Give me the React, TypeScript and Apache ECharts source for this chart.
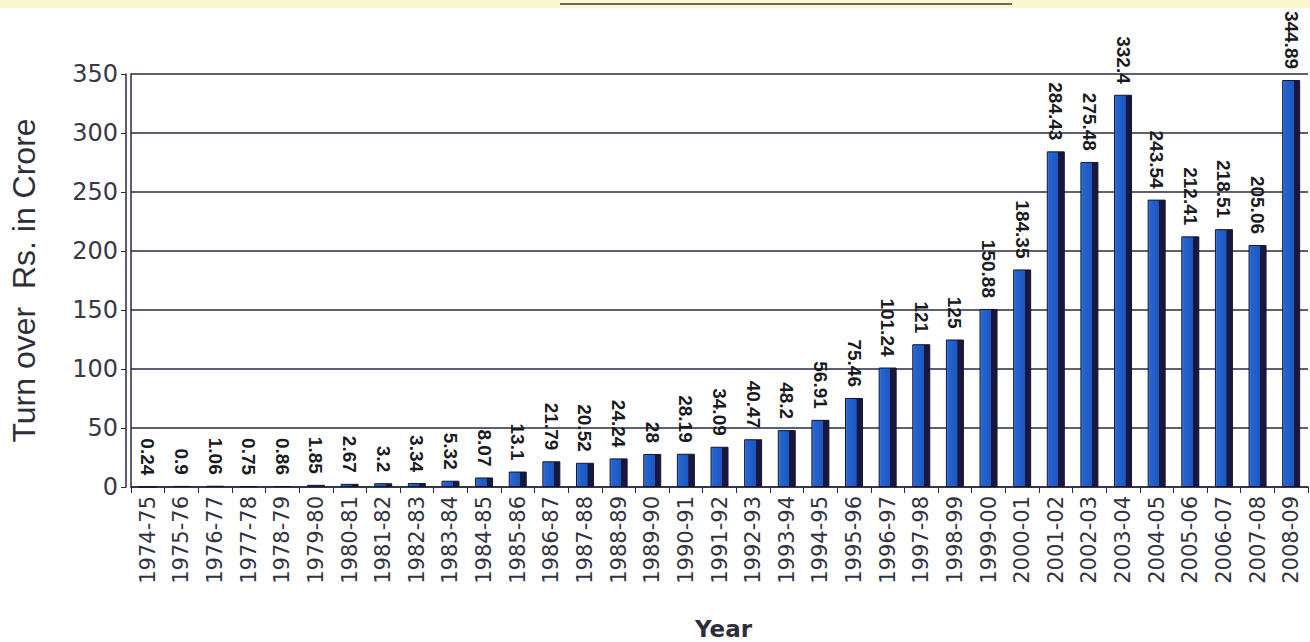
import React, { useEffect, useRef } from "react";
import * as echarts from "echarts";

const years = [
  "1974-75", "1975-76", "1976-77", "1977-78", "1978-79", "1979-80", "1980-81",
  "1981-82", "1982-83", "1983-84", "1984-85", "1985-86", "1986-87", "1987-88",
  "1988-89", "1989-90", "1990-91", "1991-92", "1992-93", "1993-94", "1994-95",
  "1995-96", "1996-97", "1997-98", "1998-99", "1999-00", "2000-01", "2001-02",
  "2002-03", "2003-04", "2004-05", "2005-06", "2006-07", "2007-08", "2008-09",
];

const turnover = [
  0.24, 0.9, 1.06, 0.75, 0.86, 1.85, 2.67,
  3.2, 3.34, 5.32, 8.07, 13.1, 21.79, 20.52,
  24.24, 28, 28.19, 34.09, 40.47, 48.2, 56.91,
  75.46, 101.24, 121, 125, 150.88, 184.35, 284.43,
  275.48, 332.4, 243.54, 212.41, 218.51, 205.06, 344.89,
];

const yTicks = { min: 0, max: 350, interval: 50 };

const yTitle = "Turn over  Rs. in Crore";
const xTitle = "Year";

export default function App() {
  const ref = useRef<HTMLDivElement>(null);

  useEffect(() => {
    if (!ref.current) return;
    const chart = echarts.init(ref.current, null, { renderer: "svg" });
    const lineColor = "#2a2a44";
    const barFill = new echarts.graphic.LinearGradient(0, 0, 1, 0, [
      { offset: 0, color: "#4a86e6" },
      { offset: 0.12, color: "#2564cf" },
      { offset: 0.64, color: "#1d57c0" },
      { offset: 0.66, color: "#18183e" },
      { offset: 1, color: "#18183e" },
    ]);
    chart.setOption({
      animation: false,
      backgroundColor: "#ffffff",
      graphic: [
        {
          type: "rect",
          shape: { x: 0, y: 0, width: 1310, height: 8 },
          style: { fill: "#fbf7cf" },
          silent: true,
        },
        {
          type: "line",
          shape: { x1: 560, y1: 4, x2: 1012, y2: 4 },
          style: { stroke: "#3a3a40", lineWidth: 1.5 },
          silent: true,
        },
        {
          type: "text",
          left: 695,
          top: 617,
          style: {
            text: xTitle,
            font: "bold 23px 'DejaVu Sans'",
            fill: "#2e2e3a",
          },
        },
      ],
      grid: { left: 131, right: 2, top: 74, bottom: 155, containLabel: false },
      xAxis: {
        type: "category",
        data: years,
        axisLine: { show: true, lineStyle: { color: lineColor, width: 1.5 } },
        axisTick: { show: true, length: 6, alignWithLabel: false, lineStyle: { color: lineColor } },
        axisLabel: {
          rotate: 90,
          interval: 0,
          margin: 9,
          fontFamily: "DejaVu Sans",
          fontSize: 21,
          color: "#333340",
        },
      },
      yAxis: [
        {
          type: "value",
          min: yTicks.min,
          max: yTicks.max,
          interval: yTicks.interval,
          offset: 5,
          name: yTitle,
          nameLocation: "middle",
          nameGap: 86,
          nameRotate: 90,
          nameTextStyle: {
            fontFamily: "Liberation Sans",
            fontSize: 32,
            color: "#2e2e3a",
          },
          axisLine: { show: true, lineStyle: { color: lineColor, width: 1.5 } },
          axisTick: { show: true, length: 5, lineStyle: { color: lineColor } },
          axisLabel: {
            margin: 8,
            fontFamily: "DejaVu Sans",
            fontSize: 24,
            color: "#3a3848",
          },
          splitLine: { show: true, lineStyle: { color: lineColor, width: 1.5 } },
        },
        {
          type: "value",
          min: yTicks.min,
          max: yTicks.max,
          interval: yTicks.interval,
          position: "left",
          offset: 0,
          axisLine: { show: true, lineStyle: { color: lineColor, width: 1.5 } },
          axisTick: { show: false },
          axisLabel: { show: false },
          splitLine: { show: false },
        },
      ],
      series: [
        {
          type: "bar",
          data: turnover,
          barWidth: 18,
          itemStyle: {
            color: barFill,
            borderColor: "#141432",
            borderWidth: 1,
          },
          label: {
            show: true,
            position: "top",
            rotate: -90,
            align: "right",
            verticalAlign: "middle",
            distance: 11,
            fontFamily: "Liberation Sans",
            fontWeight: "bold",
            fontSize: 19,
            color: "#1a1a22",
          },
        },
      ],
    });
    return () => chart.dispose();
  }, []);

  return (
    <div
      ref={ref}
      style={{ position: "fixed", left: 0, top: 0, width: 1310, height: 642 }}
    />
  );
}
